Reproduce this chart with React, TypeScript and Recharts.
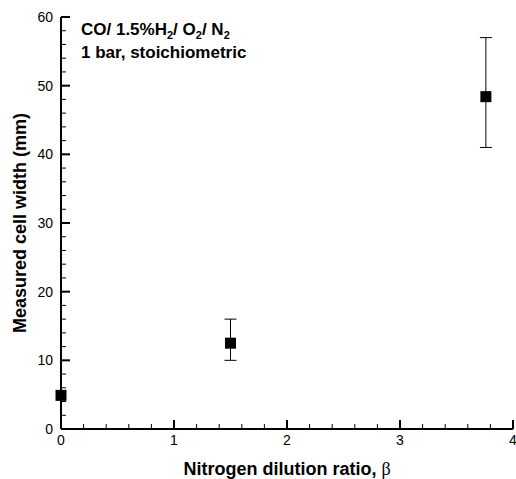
import React from 'react';
import { ScatterChart, Scatter, XAxis, YAxis, ErrorBar } from 'recharts';

// ---- data ----
const betaValues = [0, 1.5, 3.76];
const cellWidths = [4.9, 12.5, 48.4];
const lowerBounds: (number | null)[] = [null, 10, 41];
const upperBounds: (number | null)[] = [null, 16, 57];

const xMajorTicks = [0, 1, 2, 3, 4];
const xMinorTicks = [0.2, 0.4, 0.6, 0.8, 1.2, 1.4, 1.6, 1.8, 2.2, 2.4, 2.6, 2.8, 3.2, 3.4, 3.6, 3.8];
const yMajorTicks = [0, 10, 20, 30, 40, 50, 60];
const yMinorTicks = [2, 4, 6, 8, 12, 14, 16, 18, 22, 24, 26, 28, 32, 34, 36, 38, 42, 44, 46, 48, 52, 54, 56, 58];

const xTitle = 'Nitrogen dilution ratio, ';
const xTitleSymbol = 'β';
const yTitle = 'Measured cell width (mm)';
const noteLine1 = ['CO/ 1.5%H', '2', '/ O', '2', '/ N', '2'];
const noteLine2 = '1 bar, stoichiometric';

const data = betaValues.map((b, i) => ({
  beta: b,
  width: cellWidths[i],
  err:
    lowerBounds[i] == null || upperBounds[i] == null
      ? undefined
      : [cellWidths[i] - (lowerBounds[i] as number), (upperBounds[i] as number) - cellWidths[i]],
}));

const FONT = '"Liberation Sans", Arial, Helvetica, sans-serif';

const renderXLabel = (props: any) => {
  const { x, y, payload } = props;
  return (
    <text x={x} y={y + 16} textAnchor="middle" fontFamily={FONT} fontSize={14} fill="#000">
      {payload.value}
    </text>
  );
};

const renderYLabel = (props: any) => {
  const { x, y, payload } = props;
  return (
    <text x={x - 8} y={y + 5} textAnchor="end" fontFamily={FONT} fontSize={14} fill="#000">
      {payload.value}
    </text>
  );
};

const emptyTick = () => <g />;

const XTitle = (props: any) => {
  const { viewBox } = props;
  const cx = viewBox.x + viewBox.width / 2;
  return (
    <text x={cx} y={viewBox.y + 46} textAnchor="middle" fontFamily={FONT} fontWeight="bold" fontSize={18} fill="#000">
      {xTitle}
      <tspan fontFamily='"Liberation Serif", "Times New Roman", serif' fontWeight="normal">{xTitleSymbol}</tspan>
    </text>
  );
};

// Y title plus the in-plot annotation (positioned relative to the axis box)
const YTitleAndNote = (props: any) => {
  const { viewBox } = props;
  const cx = 20;
  const cy = viewBox.y + viewBox.height / 2;
  const x0 = viewBox.x + viewBox.width + 20;
  const y0 = viewBox.y + 18;
  return (
    <g>
      <text
        x={cx}
        y={cy}
        transform={`rotate(-90, ${cx}, ${cy})`}
        textAnchor="middle"
        dominantBaseline="central"
        fontFamily={FONT}
        fontWeight="bold"
        fontSize={18}
        fill="#000"
      >
        {yTitle}
      </text>
      <g fontFamily={FONT} fontWeight="bold" fill="#000">
        <text x={x0} y={y0} fontSize={17}>
          {noteLine1.map((s, i) =>
            i % 2 === 1 ? (
              <tspan key={i} dy={4} fontSize={11}>{s}</tspan>
            ) : (
              <tspan key={i} dy={i === 0 ? 0 : -4}>{s}</tspan>
            )
          )}
        </text>
        <text x={x0} y={y0 + 23} fontSize={17}>
          {noteLine2}
        </text>
      </g>
    </g>
  );
};

const SquareShape = (props: any) => {
  const { cx, cy } = props;
  return <rect x={cx - 5.5} y={cy - 5.5} width={11} height={11} fill="#000" />;
};

const NoShape = () => <g />;

export default function App() {
  return (
    <div style={{ position: 'absolute', left: 0, top: 0, background: '#fff' }}>
      <ScatterChart width={516} height={479} margin={{ top: 17, right: 3, bottom: 49.98, left: 60.98 }}>
        <XAxis
          xAxisId="minor"
          type="number"
          dataKey="beta"
          domain={[0, 4]}
          ticks={xMinorTicks}
          interval={0}
          height={0.01}
          tickSize={-5}
          tickMargin={0}
          tickLine={{ stroke: '#000', strokeWidth: 1 }}
          tick={emptyTick}
          axisLine={false}
        />
        <XAxis
          type="number"
          dataKey="beta"
          domain={[0, 4]}
          ticks={xMajorTicks}
          interval={0}
          height={0.01}
          tickSize={-9}
          tickMargin={9}
          tickLine={{ stroke: '#000', strokeWidth: 2 }}
          tick={renderXLabel}
          axisLine={{ stroke: '#000', strokeWidth: 2 }}
          label={<XTitle />}
        />
        <YAxis
          yAxisId="minor"
          type="number"
          dataKey="width"
          domain={[0, 60]}
          ticks={yMinorTicks}
          interval={0}
          width={0.01}
          tickSize={-5}
          tickMargin={0}
          tickLine={{ stroke: '#000', strokeWidth: 1 }}
          tick={emptyTick}
          axisLine={false}
        />
        <YAxis
          type="number"
          dataKey="width"
          domain={[0, 60]}
          ticks={yMajorTicks}
          interval={0}
          width={0.01}
          tickSize={-9}
          tickMargin={9}
          tickLine={{ stroke: '#000', strokeWidth: 2 }}
          tick={renderYLabel}
          axisLine={{ stroke: '#000', strokeWidth: 2 }}
          label={<YTitleAndNote />}
        />
        <Scatter data={data} xAxisId="minor" yAxisId="minor" shape={<NoShape />} isAnimationActive={false} />
        <Scatter data={data} shape={<SquareShape />} isAnimationActive={false}>
          <ErrorBar dataKey="err" direction="y" width={6} stroke="#000" strokeWidth={1} isAnimationActive={false} />
        </Scatter>
      </ScatterChart>
    </div>
  );
}
